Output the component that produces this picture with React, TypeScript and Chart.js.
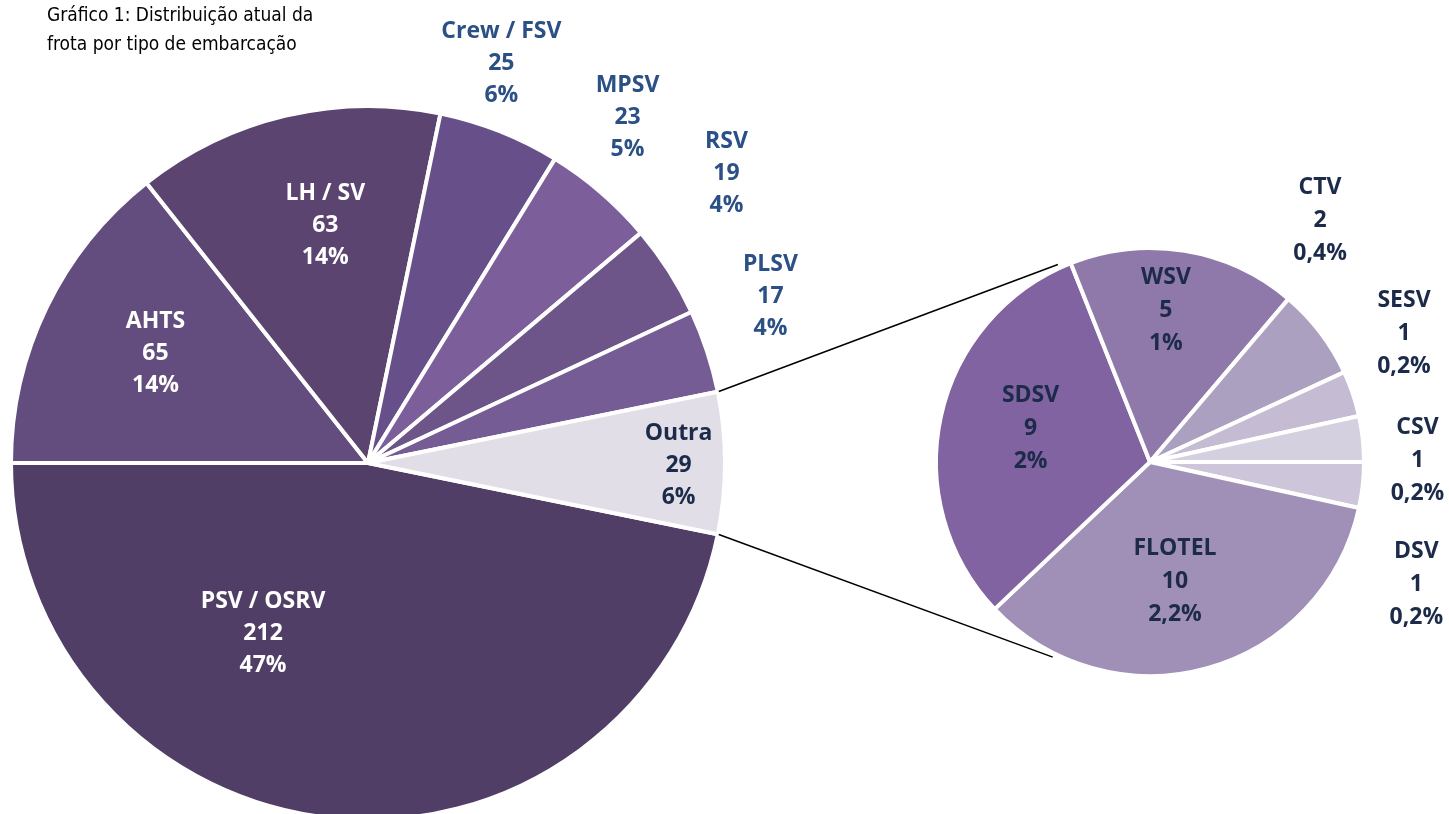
import React, { useEffect, useRef } from "react";
import { Chart, registerables } from "chart.js";

Chart.register(...registerables);

// ---- data ----
const mainCategories = ["PSV / OSRV", "AHTS", "LH / SV", "Crew / FSV", "MPSV", "RSV", "PLSV", "Outra"];
const mainValues = [212, 65, 63, 25, 23, 19, 17, 29];
const mainPercents = ["47%", "14%", "14%", "6%", "5%", "4%", "4%", "6%"];

const subCategories = ["DSV", "FLOTEL", "SDSV", "WSV", "CTV", "SESV", "CSV"];
const subValues = [1, 10, 9, 5, 2, 1, 1];
const subPercents = ["0,2%", "2,2%", "2%", "1%", "0,4%", "0,2%", "0,2%"];

const titleLines = ["Gráfico 1: Distribuição atual da", "frota por tipo de embarcação"];

// ---- styles ----
const mainColors = ["#513e66", "#634c7e", "#5b446f", "#67508a", "#7c5f9a", "#6d5589", "#755c94", "#e1dee8"];
const subColors = ["#cdc5da", "#a08fb6", "#8063a0", "#8f79aa", "#aba0bf", "#c5bcd3", "#d5d0e0"];

const WHITE = "#ffffff";
const BLUE = "#2b5085";
const NAVY = "#1c2b4a";
const mainLabelColors = [WHITE, WHITE, WHITE, BLUE, BLUE, BLUE, BLUE, NAVY];
const subLabelColors = [NAVY, NAVY, NAVY, NAVY, NAVY, NAVY, NAVY];

// label placement (degrees offset from slice mid-angle, radius fraction)
const mainLabelAngleOffset = [25.9, 1.5, 3.1, -3.2, -3.8, -6.3, -4.2, 0.5];
const mainLabelRadius = [0.56, 0.67, 0.675, 1.18, 1.21, 1.29, 1.22, 0.87];
const subLabelAngleOffset = [18.5, 3.7, 3.4, -3.3, -17.6, -8.2, 5.8];
const subLabelRadius = [1.37, 0.57, 0.58, 0.71, 1.38, 1.33, 1.25];

const connectorAngles = [245, 116.5]; // on the secondary pie, degrees

const W = 1449;
const H = 840;

type LabelCfg = {
  texts: string[][];
  colors: string[];
  angleOffsets: number[];
  radii: number[];
  lineHeight: number;
  font: string;
};

function makeLabelPlugin(id: string, cfg: LabelCfg) {
  return {
    id,
    afterDatasetsDraw(chart: any) {
      const ctx = chart.ctx;
      const meta = chart.getDatasetMeta(0);
      ctx.save();
      ctx.font = cfg.font;
      ctx.textAlign = "center";
      ctx.textBaseline = "middle";
      meta.data.forEach((arc: any, i: number) => {
        const p = arc.getProps(["x", "y", "startAngle", "endAngle", "outerRadius"], true);
        const mid = (p.startAngle + p.endAngle) / 2 + (cfg.angleOffsets[i] * Math.PI) / 180;
        const r = p.outerRadius * cfg.radii[i];
        const cx = p.x + Math.cos(mid) * r;
        const cy = p.y + Math.sin(mid) * r;
        ctx.fillStyle = cfg.colors[i];
        const lines = cfg.texts[i];
        lines.forEach((t, k) => {
          ctx.fillText(t, cx, cy + (k - (lines.length - 1) / 2) * cfg.lineHeight);
        });
      });
      ctx.restore();
    },
  };
}

export default function App() {
  const mainRef = useRef<HTMLCanvasElement>(null);
  const subRef = useRef<HTMLCanvasElement>(null);

  useEffect(() => {
    if (!mainRef.current || !subRef.current) return;
    const labelFont = "bold 23px 'Open Sans', 'Noto Sans', sans-serif";

    const mainTotalStart = (mainValues[mainValues.length - 1] / mainValues.reduce((a, b) => a + b, 0)) * 180;

    const mainChart = new Chart(mainRef.current, {
      type: "pie",
      data: {
        labels: mainCategories,
        datasets: [
          {
            data: mainValues,
            backgroundColor: mainColors,
            borderColor: "#ffffff",
            borderWidth: 4,
          },
        ],
      },
      options: {
        responsive: false,
        animation: false,
        events: [],
        radius: 357,
        rotation: 90 + mainTotalStart,
        layout: { padding: { left: 10, right: W - 726, top: 105, bottom: H - 821 } },
        plugins: { legend: { display: false }, tooltip: { enabled: false }, title: { display: false } },
      } as any,
      plugins: [
        makeLabelPlugin("mainLabels", {
          texts: mainCategories.map((c, i) => [c, String(mainValues[i]), mainPercents[i]]),
          colors: mainLabelColors,
          angleOffsets: mainLabelAngleOffset,
          radii: mainLabelRadius,
          lineHeight: 32,
          font: labelFont,
        }),
      ],
    });

    const connectorPlugin = {
      id: "connectors",
      afterDraw(chart: any) {
        const mMeta = mainChart.getDatasetMeta(0);
        const other: any = mMeta.data[mMeta.data.length - 1];
        const o = other.getProps(["x", "y", "startAngle", "endAngle", "outerRadius"], true);
        const sArc: any = chart.getDatasetMeta(0).data[0];
        const s = sArc.getProps(["x", "y", "outerRadius"], true);
        const ctx = chart.ctx;
        ctx.save();
        ctx.strokeStyle = "#000000";
        ctx.lineWidth = 1.5;
        const ends = [o.startAngle, o.endAngle];
        ends.forEach((a: number, k: number) => {
          const x1 = o.x + Math.cos(a) * (o.outerRadius + 1);
          const y1 = o.y + Math.sin(a) * (o.outerRadius + 1);
          const b = (connectorAngles[k] * Math.PI) / 180;
          const x2 = s.x + Math.cos(b) * (s.outerRadius + 4);
          const y2 = s.y + Math.sin(b) * (s.outerRadius + 4);
          ctx.beginPath();
          ctx.moveTo(x1, y1);
          ctx.lineTo(x2, y2);
          ctx.stroke();
        });
        ctx.restore();
      },
    };

    const subChart = new Chart(subRef.current, {
      type: "pie",
      data: {
        labels: subCategories,
        datasets: [
          {
            data: subValues,
            backgroundColor: subColors,
            borderColor: "#ffffff",
            borderWidth: 4,
          },
        ],
      },
      options: {
        responsive: false,
        animation: false,
        events: [],
        radius: 214,
        rotation: 90,
        layout: { padding: { left: 935, right: W - 1365, top: 247, bottom: H - 677 } },
        plugins: { legend: { display: false }, tooltip: { enabled: false }, title: { display: false } },
      } as any,
      plugins: [
        connectorPlugin,
        makeLabelPlugin("subLabels", {
          texts: subCategories.map((c, i) => [c, String(subValues[i]), subPercents[i]]),
          colors: subLabelColors,
          angleOffsets: subLabelAngleOffset,
          radii: subLabelRadius,
          lineHeight: 33,
          font: labelFont,
        }),
      ],
    });

    return () => {
      subChart.destroy();
      mainChart.destroy();
    };
  }, []);

  return (
    <div
      style={{
        position: "fixed",
        left: 0,
        top: 0,
        width: W,
        height: 814,
        overflow: "hidden",
        background: "#ffffff",
      }}
    >
      <canvas ref={mainRef} width={W} height={H} style={{ position: "absolute", left: 0, top: 0 }} />
      <canvas ref={subRef} width={W} height={H} style={{ position: "absolute", left: 0, top: 0 }} />
      <div
        style={{
          position: "absolute",
          left: 47,
          top: 0,
          fontFamily: "'Liberation Sans Narrow', 'DejaVu Sans Condensed', 'Liberation Sans', sans-serif",
          fontSize: 19,
          lineHeight: "29px",
          color: "#000000",
          whiteSpace: "nowrap",
        }}
      >
        {titleLines.map((t) => (
          <div key={t}>{t}</div>
        ))}
      </div>
    </div>
  );
}
